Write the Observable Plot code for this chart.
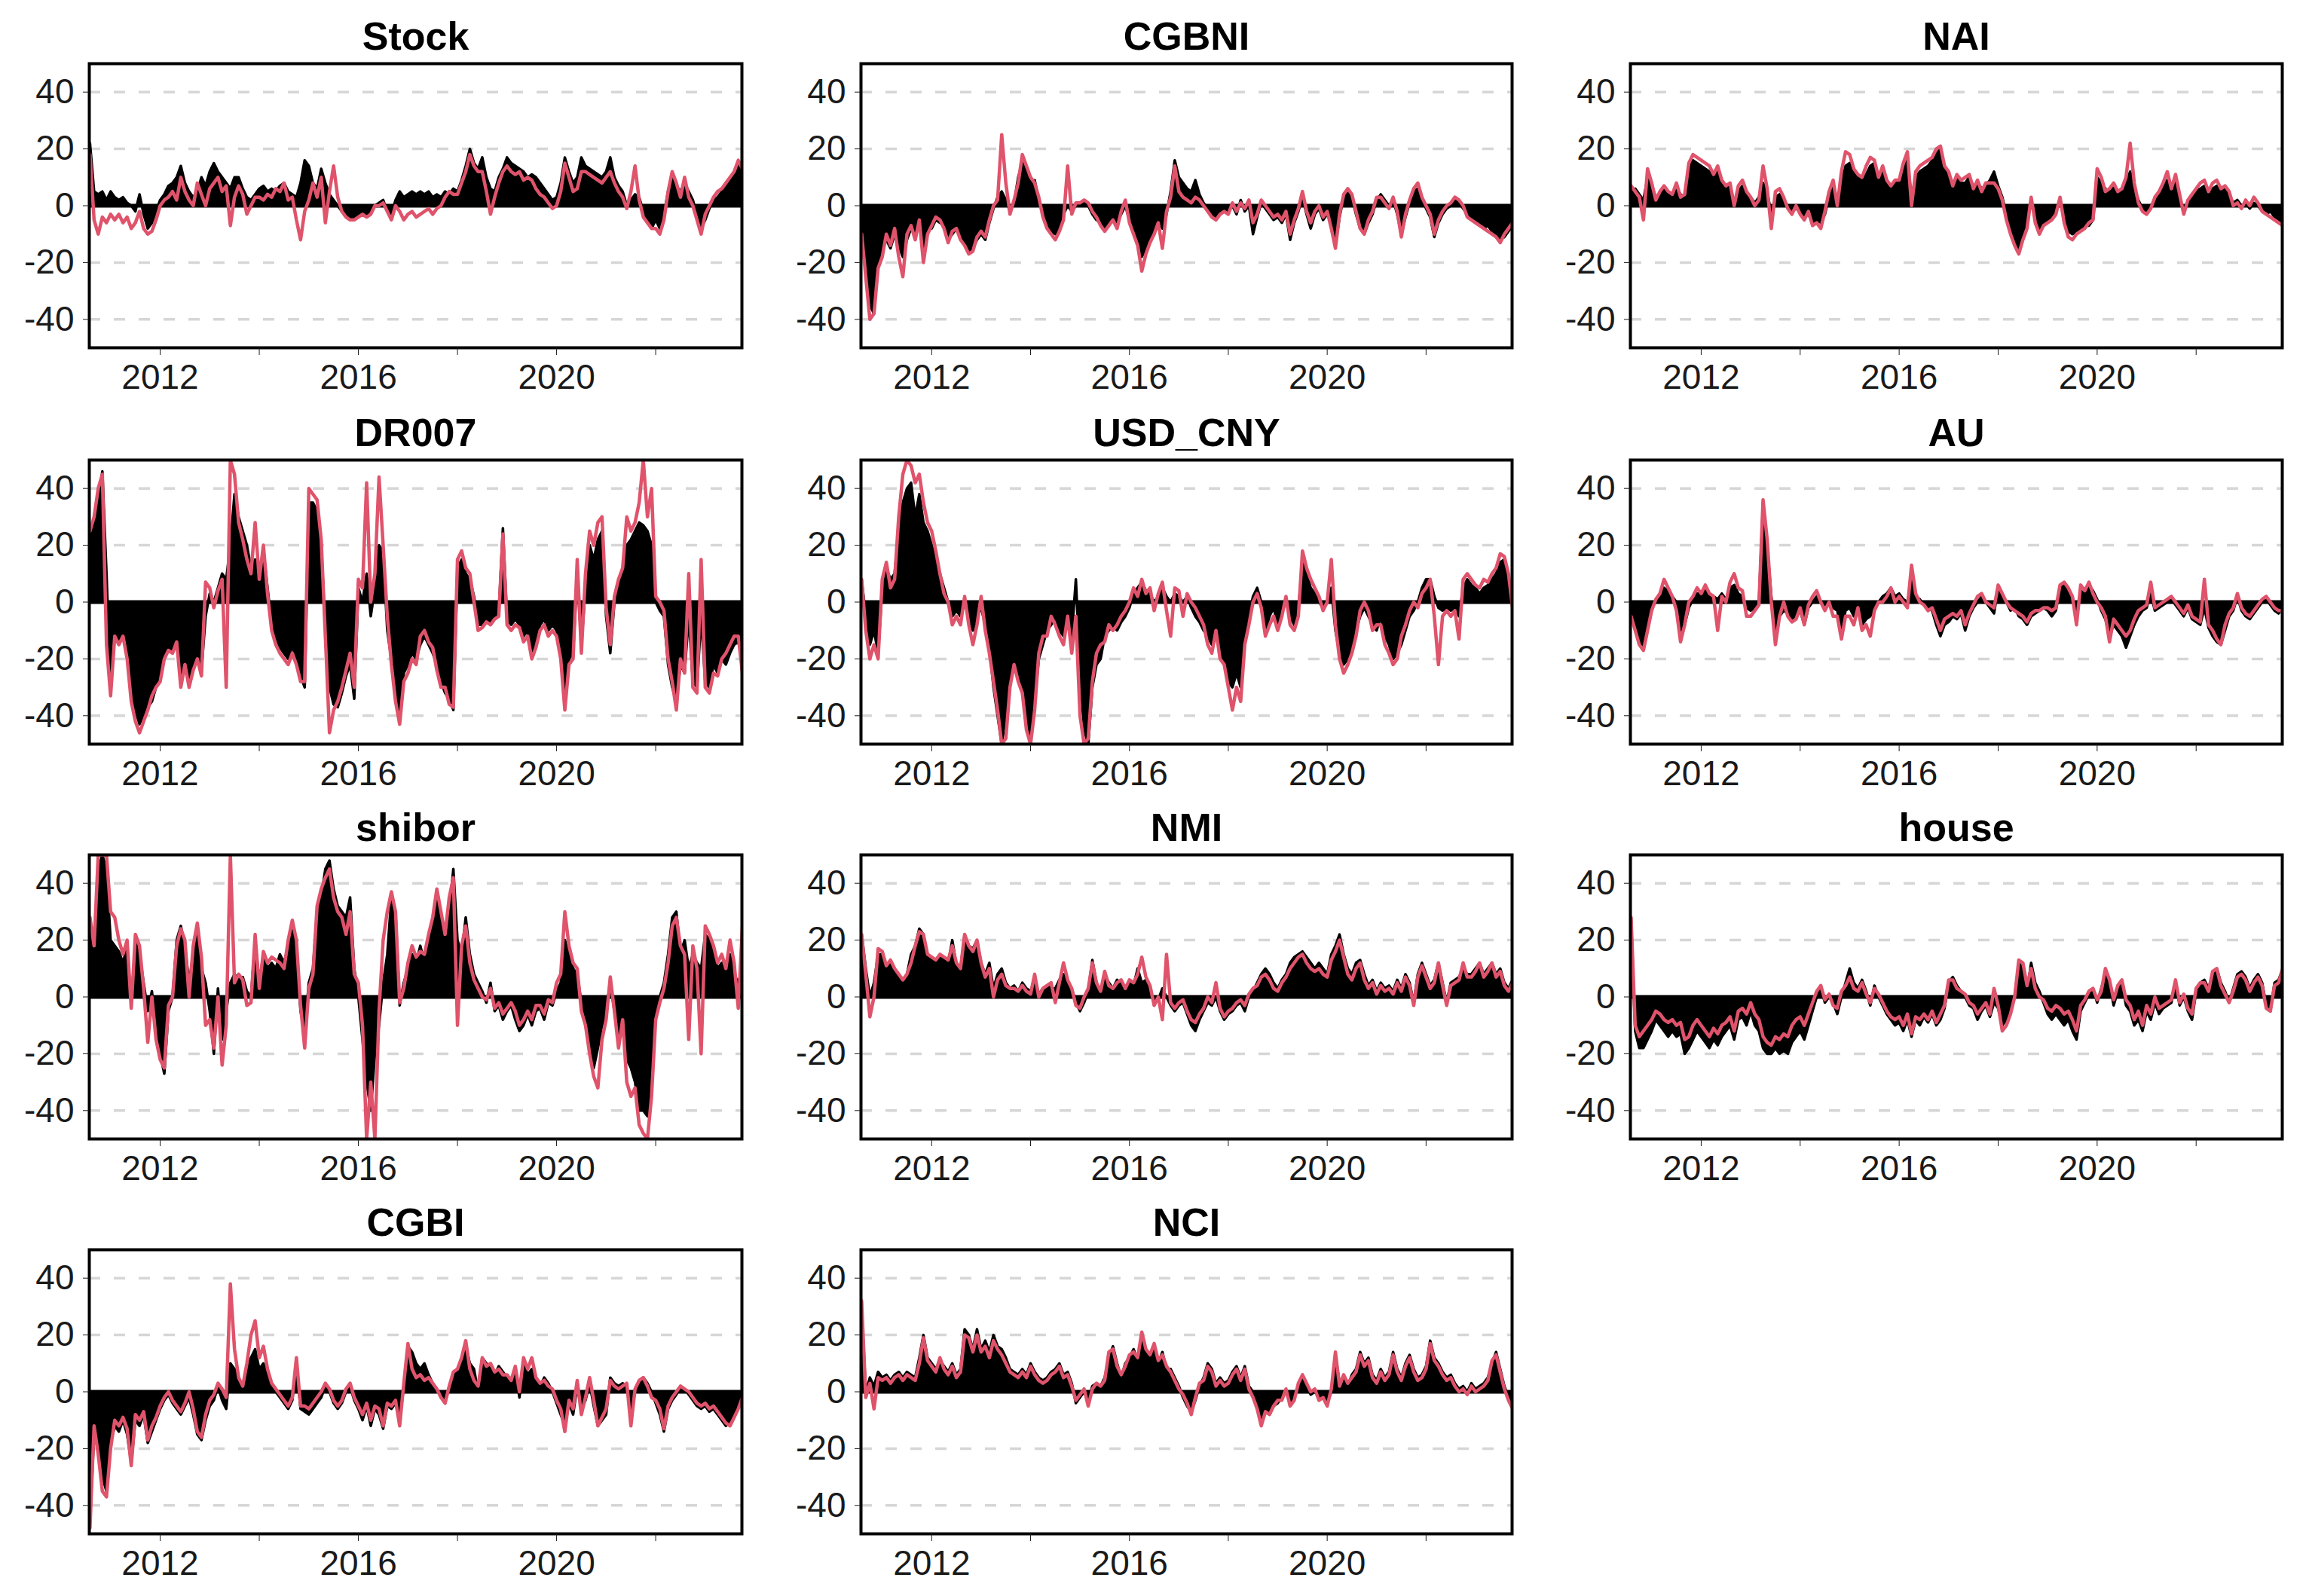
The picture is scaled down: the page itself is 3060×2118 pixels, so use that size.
<!DOCTYPE html>
<html><head><meta charset="utf-8">
<script src="https://cdn.jsdelivr.net/npm/d3@7"></script>
<script src="https://cdn.jsdelivr.net/npm/@observablehq/plot@0.6"></script>
<style>
html,body{margin:0;padding:0;background:#fff;}
#wrap{position:relative;width:3060px;height:2118px;background:#fff;overflow:hidden;}
#wrap svg{position:absolute;}
</style></head><body><div id="wrap"></div>
<script>
// Monthly readings, Aug 2010 .. Oct 2023 (rows: 2010 Aug-Dec, then one row per year)
const stockBlack = [22,5,4,5,2,
5,3,2,3,1,0,-2,4,-3,-8,-6,-2,
2,4,7,8,10,14,8,5,3,5,10,7,
12,15,12,10,8,6,10,10,6,3,2,4,
6,7,5,6,5,7,8,5,4,3,8,16,
14,8,6,13,8,4,2,0,-2,-4,-5,-4,
-3,-2,-4,-1,0,1,2,-2,-3,2,5,3,
4,5,4,5,4,5,3,4,3,5,4,6,
5,9,14,20,15,13,17,10,6,5,10,13,
17,15,14,13,12,10,11,10,8,6,4,2,
3,8,17,12,8,10,17,14,13,12,11,10,
12,17,10,7,5,0,2,4,3,-2,-5,-8,
-5,-8,-3,5,10,7,5,8,5,2,-3,-8,
-5,-1,2,3,5,7,9,12,15,14];
const stockRed = [18,-5,-10,-4,-6,
-3,-5,-3,-6,-4,-8,-6,-2,-8,-10,-9,-5,
0,2,3,5,2,10,5,2,0,8,4,0,
6,8,10,5,7,-7,3,7,4,-3,0,3,
3,2,4,3,6,5,8,2,3,-5,-12,-2,
2,8,3,10,-6,5,14,3,-2,-4,-5,-5,
-4,-3,-4,-3,0,0,1,-2,-5,0,-2,-5,
-3,-2,-4,-3,-2,-1,-3,-1,0,3,5,4,
4,8,12,18,14,12,12,5,-3,3,8,12,
14,12,11,12,9,10,9,6,4,3,1,-1,
0,5,15,10,5,6,12,12,11,10,9,8,
10,12,8,5,3,-1,5,14,2,-4,-6,-8,
-8,-10,-5,5,12,8,3,10,3,0,-5,-10,
-3,0,3,5,6,8,10,12,16,13];

const cgbniBlack = [-8,-20,-35,-38,-20,
-15,-12,-15,-10,-14,-18,-12,-8,-10,-6,-15,-8,
-8,-5,-6,-7,-12,-10,-8,-10,-13,-16,-15,-12,
-10,-12,-6,-1,3,5,2,-2,1,10,15,12,
8,9,2,-3,-6,-9,-10,-8,-3,0,-2,0,
0,1,0,-3,-5,-6,-8,-6,-4,-6,-3,0,
-5,-8,-12,-18,-15,-12,-10,-5,-8,-3,5,16,
10,8,6,5,9,4,1,-1,-3,-4,-2,-1,
-2,0,-3,2,-2,0,-10,-4,1,-1,-3,-5,
-4,-6,-3,-12,-6,-2,3,-3,-8,-3,-1,-5,
-3,-6,-14,-4,3,5,3,-3,-8,-10,-6,-3,
2,4,2,0,2,-3,-10,-4,1,5,6,2,
-1,-4,-11,-6,-3,-1,0,2,1,-1,-3,-5,
-6,-7,-8,-7,-9,-10,-12,-11,-9,-7];
const cgbniRed = [-10,-25,-40,-38,-22,
-18,-10,-14,-8,-18,-25,-10,-7,-12,-5,-20,-10,
-7,-4,-5,-8,-13,-9,-8,-12,-14,-17,-16,-11,
-9,-11,-5,0,2,25,8,-3,2,8,18,14,
10,8,3,-4,-8,-10,-12,-9,-5,14,-3,1,
1,2,1,-2,-4,-7,-9,-7,-5,-8,-2,2,
-6,-10,-14,-23,-17,-13,-10,-6,-15,-2,3,14,
5,3,2,1,3,2,0,-2,-4,-5,-3,-2,
-3,1,-2,1,-1,2,-6,-3,2,0,-2,-4,
-3,-5,-2,-10,-5,-1,5,-2,-6,-2,0,-4,
-2,-8,-15,-3,4,6,4,-2,-8,-10,-5,-2,
3,3,1,-1,3,-2,-11,-3,2,6,8,3,
0,-3,-10,-5,-2,0,1,3,2,0,-4,-5,
-6,-7,-8,-9,-10,-11,-13,-10,-8,-6];

const naiBlack = [5,6,4,2,10,
7,3,4,6,5,4,6,4,3,12,16,15,
14,13,12,10,12,8,6,7,1,5,7,4,
3,1,3,8,5,-3,3,4,2,0,-2,-1,
-2,-4,-3,-6,-5,-6,-3,3,7,2,8,14,
15,12,10,9,11,14,15,9,12,8,6,8,
8,12,16,3,10,12,13,14,16,18,20,13,
11,8,10,8,8,10,7,8,6,7,9,12,
7,3,-3,-8,-12,-15,-10,-6,2,-4,-8,-6,
-5,-4,-2,2,-5,-9,-10,-9,-8,-7,-7,-5,
10,8,6,5,7,4,5,8,12,6,2,-1,
-2,0,2,4,6,9,5,8,3,-2,1,3,
5,6,7,5,6,7,5,6,4,1,2,0,
1,-1,1,0,-2,-3,-2,-4,-5,-6];
const naiRed = [7,5,3,-5,13,
8,2,5,7,5,4,8,3,4,15,18,17,
16,15,14,11,14,9,7,8,0,7,9,5,
3,0,2,14,6,-8,5,6,3,-1,-3,0,
-3,-5,-2,-7,-6,-8,-2,5,9,0,12,19,
18,13,11,10,14,17,16,10,14,9,7,9,
9,15,19,0,12,14,15,16,17,20,21,14,
12,7,11,9,10,11,6,9,5,8,8,8,
6,2,-5,-10,-14,-17,-12,-8,3,-6,-10,-7,
-6,-5,-3,3,-6,-11,-12,-10,-9,-8,-6,-5,
13,10,5,6,8,5,6,10,22,8,1,-2,
-3,-1,3,5,8,12,6,11,4,-3,2,4,
6,8,9,5,8,9,6,7,5,0,1,-1,
2,0,3,1,-2,-3,-4,-5,-6,-7];

const dr007Black = [22,28,35,46,10,
-30,-12,-15,-10,-18,-30,-38,-43,-40,-37,-35,-30,
-25,-20,-15,-18,-12,-28,-20,-28,-22,-18,-24,-5,
3,0,5,10,8,20,38,30,25,20,12,15,
10,18,5,-8,-12,-16,-18,-20,-15,-22,-26,-30,
35,35,32,20,-10,-30,-36,-37,-32,-26,-22,-34,
5,0,10,-5,5,20,18,-10,-20,-32,-38,-25,
-22,-18,-20,-15,-12,-15,-18,-22,-28,-32,-34,-38,
12,15,10,8,2,-8,-8,-6,-7,-5,-4,26,
-6,-8,-6,-8,-12,-10,-18,-15,-8,-6,-10,-8,
-10,-18,-35,-20,-18,10,-15,5,20,15,22,25,
-5,-18,0,5,10,20,22,25,28,27,25,20,
0,-3,-5,-22,-30,-35,-22,-25,-5,-28,-30,-5,
-28,-30,-22,-25,-20,-22,-18,-15,-14,-20];
const dr007Red = [25,30,40,45,-15,
-33,-12,-15,-12,-20,-35,-42,-46,-42,-38,-33,-30,
-28,-20,-17,-18,-14,-30,-22,-30,-24,-20,-26,7,
5,-2,4,8,-30,50,45,28,22,15,10,28,
8,20,3,-10,-15,-18,-20,-22,-18,-22,-28,-28,
40,38,36,22,-12,-46,-38,-35,-30,-24,-18,-30,
8,5,42,0,10,44,20,-5,-22,-35,-43,-28,
-25,-20,-22,-12,-10,-14,-16,-24,-30,-30,-36,-37,
15,18,12,10,0,-10,-9,-7,-8,-6,-5,24,
-8,-10,-8,-9,-14,-12,-20,-16,-10,-8,-12,-10,
-12,-20,-38,-22,-20,15,-18,10,25,20,28,30,
-2,-15,2,8,12,30,25,28,35,50,30,40,
2,0,-3,-20,-28,-38,-20,-25,10,-30,-32,15,
-30,-32,-25,-26,-20,-18,-15,-12,-12,-25];

const usdBlack = [8,-5,-15,-10,-18,
5,12,8,10,25,35,40,42,30,38,28,25,
20,15,10,5,0,-5,-3,-5,0,-5,-10,-5,
-2,-8,-15,-30,-40,-50,-40,-25,-20,-25,-30,-40,
-48,-35,-20,-15,-10,-8,-5,-10,-12,-8,-12,8,
-25,-45,-50,-30,-22,-20,-12,-10,-8,-10,-7,-5,
-2,3,5,7,4,3,0,2,5,2,0,3,
2,0,2,-2,-5,-7,-10,-12,-15,-8,-18,-22,
-28,-30,-25,-30,-12,-5,2,5,0,-10,-5,-2,
-8,-3,0,-5,-8,-3,15,10,5,3,0,-2,
0,5,-10,-18,-22,-20,-15,-10,-5,-2,-5,-8,
-10,-5,-12,-15,-20,-18,-15,-10,-5,-3,0,5,
8,8,2,-2,-3,-2,-3,-2,-5,5,8,6,
5,3,5,6,8,10,14,15,8,0];
const usdRed = [8,-10,-20,-15,-20,
8,14,5,8,30,45,50,48,42,45,35,28,
25,18,10,3,0,-8,-5,-8,2,-8,-15,-8,
2,-10,-18,-28,-38,-50,-48,-30,-22,-28,-32,-45,
-50,-38,-18,-12,-12,-5,-8,-12,-15,-5,-18,-5,
-40,-50,-48,-28,-18,-15,-14,-8,-10,-8,-5,-3,
0,5,2,8,3,5,-3,3,7,-3,-12,5,
4,-5,3,0,-2,-5,-8,-15,-18,-10,-20,-22,
-30,-38,-30,-35,-15,-8,0,3,-2,-12,-8,-5,
-10,-5,2,-8,-10,-5,18,12,8,5,2,-3,
0,15,-8,-20,-25,-22,-18,-12,-3,0,-3,-10,
-8,-8,-15,-18,-22,-20,-12,-8,-3,0,-2,3,
5,8,-5,-22,-5,-3,-5,-3,-13,8,10,8,
6,5,8,7,10,12,17,16,10,-2];

const auBlack = [-3,-8,-14,-16,-8,
-2,0,2,5,4,2,0,-10,-8,-2,1,3,
3,4,2,2,1,3,1,5,6,3,2,-2,
-3,-2,0,35,20,2,-10,-5,-3,-4,-6,-5,
-3,-8,-2,0,2,0,-1,0,-2,-3,-10,-3,
-2,-5,-3,-8,-6,-5,-2,0,2,3,5,2,
3,1,0,8,2,1,-1,-2,-3,-8,-12,-8,
-7,-5,-6,-4,-10,-5,-2,0,2,0,-2,-4,
5,2,0,-3,-2,-5,-6,-8,-5,-4,-3,-2,
-3,-5,-3,5,6,4,2,-5,4,3,6,4,
1,-3,-6,-12,-8,-10,-12,-16,-12,-8,-5,-3,
-2,3,-3,-2,-1,0,1,-1,-3,-5,-2,-6,
-7,-8,-2,-9,-12,-14,-15,-10,-5,-3,2,-3,
-5,-6,-4,-2,0,1,-1,-3,-4,-2];
const auRed = [-5,-10,-15,-17,-10,
-3,1,3,8,5,2,-3,-14,-8,0,2,5,
3,6,3,2,-10,2,0,7,10,5,4,-5,
-5,-3,-1,36,22,0,-15,-5,0,-5,-7,-6,
-2,-8,-1,2,4,0,-3,0,-5,-5,-13,-5,
-5,-8,-2,-10,-8,-12,-3,0,0,2,5,0,
2,0,-2,13,3,0,-1,-3,-2,-6,-10,-6,
-5,-4,-5,-3,-8,-4,-1,2,3,0,-1,-2,
6,3,0,-2,-3,-4,-5,-7,-4,-3,-3,-2,
-2,-3,-2,6,7,5,2,-8,6,4,7,3,
0,-2,-5,-14,-6,-8,-10,-12,-10,-6,-3,-2,
-1,7,-2,-1,0,1,2,0,-2,-4,-1,-5,
-6,-7,8,-8,-10,-13,-15,-8,-4,-2,3,-2,
-4,-5,-3,-1,1,2,0,-2,-3,-3];

const shiborBlack = [25,15,45,50,45,
20,18,16,12,18,-3,20,15,5,-5,2,-12,
-20,-27,-5,0,20,25,18,5,15,25,10,5,
-5,-20,3,-15,-5,5,8,6,7,2,0,20,
5,15,10,12,10,15,12,18,25,18,-5,-12,
5,10,30,35,45,48,38,32,30,28,35,10,
0,-15,-30,-40,-20,-10,5,15,35,30,-3,5,
10,15,12,18,12,20,25,35,28,20,30,45,
20,15,28,15,8,5,2,-2,5,-5,-3,-8,
-5,-3,-8,-12,-10,-6,-10,-5,-4,-8,-2,-3,
2,5,20,15,10,8,-2,-8,-15,-25,-18,-10,
-5,5,-5,-15,-10,-22,-25,-30,-40,-40,-42,-30,
-5,0,5,15,28,30,15,20,10,15,12,10,
22,20,15,10,12,8,15,8,5,10];
const shiborRed = [28,18,50,50,50,
30,28,20,15,20,-4,22,18,3,-16,0,-15,
-22,-25,-3,0,18,24,20,0,18,26,14,-10,
-8,-18,0,-24,-10,50,5,8,6,-3,-2,22,
3,16,12,14,13,12,10,20,27,20,-3,-18,
3,8,32,38,42,45,35,30,28,22,30,8,
5,-10,-50,-30,-50,-5,20,30,37,30,-2,3,
12,18,14,16,15,22,28,38,30,22,35,42,
-10,18,25,12,6,3,0,-1,3,-4,-2,-6,
-4,-2,-5,-10,-8,-5,-8,-3,-3,-6,-1,-2,
5,8,30,18,12,10,-5,-10,-20,-28,-32,-15,
-8,7,-5,-18,-8,-30,-35,-32,-45,-48,-50,-35,
-8,-2,3,12,25,28,18,15,-15,18,10,-20,
25,22,18,12,15,10,20,12,-4,25];

const nmiBlack = [22,10,0,5,15,
15,10,12,9,7,6,8,15,18,24,22,14,
14,13,14,14,12,20,11,10,22,18,17,20,
12,8,12,3,8,10,5,3,4,2,5,3,
2,6,1,3,4,3,3,6,8,5,3,-2,
-5,-2,2,13,5,1,8,5,3,6,5,2,
5,4,10,5,6,3,-2,-1,3,0,-3,-5,
-3,-2,-6,-10,-12,-8,-5,-2,-3,0,-5,-8,
-6,-5,-3,-2,-5,0,2,5,8,10,8,5,
3,6,8,12,14,15,16,14,12,10,12,10,
8,15,18,22,15,10,8,12,13,8,4,6,
2,5,3,4,2,6,3,8,5,-2,8,12,
8,4,6,12,5,-2,5,6,7,10,8,8,
10,12,8,10,12,8,10,5,3,6];
const nmiRed = [22,8,-7,0,17,
16,11,13,10,8,6,8,12,18,23,22,15,
14,13,15,14,13,18,12,10,22,18,16,20,
12,7,10,0,6,8,4,3,3,2,4,2,
1,8,0,3,4,5,-2,5,12,6,3,-3,
-4,0,3,12,5,2,9,4,3,5,6,3,
6,5,8,14,7,4,-3,0,-8,15,-2,-4,
-2,-1,-5,-8,-9,-6,-4,0,-2,5,-4,-7,
-5,-4,-2,-1,-3,1,3,4,7,8,6,3,
2,5,7,10,12,14,15,12,10,9,10,8,
7,13,16,20,14,8,6,10,12,6,3,5,
1,4,2,3,1,5,2,7,4,-3,7,11,
7,3,5,12,4,-3,4,5,6,12,7,7,
9,12,7,9,12,7,9,4,2,5];

const houseBlack = [28,-12,-18,-18,-15,
-12,-8,-10,-12,-14,-12,-14,-13,-20,-18,-15,-12,
-14,-16,-18,-15,-17,-14,-12,-10,-15,-8,-7,-10,
-5,-10,-12,-18,-20,-20,-18,-20,-19,-20,-16,-14,
-12,-15,-10,-5,0,3,-2,0,-2,-6,0,5,
10,5,3,6,2,-3,4,0,-3,-6,-8,-10,
-9,-12,-8,-14,-8,-10,-7,-9,-6,-10,-8,-4,
5,7,4,2,0,-3,-4,-8,-5,-3,-7,-2,
-4,-10,-8,-5,0,12,10,2,12,5,2,-2,
-6,-8,-6,-8,-10,-8,-12,-15,-5,-2,1,3,
-2,3,8,5,-3,2,5,-3,-5,-10,-8,-12,
-5,-8,-2,-6,-4,-3,-2,5,-3,0,-5,-8,
2,5,6,3,8,10,5,2,-2,3,8,9,
7,3,6,8,5,-3,-5,5,6,10];
const houseRed = [28,-10,-14,-12,-10,
-8,-5,-6,-8,-9,-8,-10,-9,-15,-14,-10,-8,
-10,-12,-14,-11,-13,-10,-9,-7,-12,-5,-4,-6,
-2,-6,-8,-14,-16,-17,-14,-15,-13,-14,-10,-8,
-7,-10,-6,-2,2,4,-1,1,-3,-4,2,4,
7,3,2,5,1,-2,3,1,-2,-5,-7,-8,
-7,-10,-6,-13,-7,-8,-6,-8,-5,-9,-6,-3,
6,6,3,2,1,-2,-3,-6,-4,-2,-6,3,
-3,-12,-10,-6,0,13,12,4,10,3,0,-1,
-4,-5,-3,-4,-6,-5,-8,-12,-3,-1,2,3,
-1,2,10,6,-1,4,6,-1,-3,-8,-5,-10,
-3,-6,0,-4,-3,-2,-1,6,-2,1,-4,-6,
3,5,5,2,9,10,4,1,-2,2,7,8,
6,2,5,7,4,-4,-5,4,5,10];

const cgbiBlack = [-45,-15,-20,-30,-35,
-18,-12,-14,-10,-15,-25,-10,-12,-8,-18,-14,-10,
-6,-3,-1,-4,-6,-8,-5,-2,-8,-15,-17,-10,
-5,-3,2,-3,-6,10,8,3,1,8,12,15,
8,10,6,2,0,-2,-4,-6,-3,10,-6,-7,
-8,-6,-4,-2,2,0,-4,-6,-4,0,2,-3,
-6,-10,-5,-12,-6,-8,-13,-5,-6,-4,-10,2,
16,14,10,8,10,6,3,1,-2,-4,2,6,
8,10,16,10,8,0,12,10,8,6,9,7,
5,3,8,-2,10,6,8,4,2,5,3,0,
-4,-8,-12,-4,-8,2,-6,-3,3,-5,-12,-10,
-8,5,3,2,3,2,-8,0,3,5,3,0,
-4,-8,-14,-6,-3,-1,2,1,-1,-3,-5,-6,
-5,-7,-6,-8,-10,-12,-10,-8,-5,-3];
const cgbiRed = [-48,-12,-22,-35,-37,
-20,-10,-12,-9,-13,-26,-8,-10,-7,-17,-12,-9,
-5,-2,0,-3,-5,-7,-4,0,-6,-14,-16,-8,
-3,-1,3,1,-2,38,15,5,2,10,20,25,
12,16,8,3,1,-1,-3,-5,-2,12,-5,-5,
-6,-4,-2,0,3,1,-3,-5,-3,1,3,-2,
-5,-8,-4,-10,-5,-6,-12,-4,-5,-3,-12,3,
17,8,5,6,4,5,3,1,-2,-4,2,7,
8,12,18,8,4,2,12,9,10,7,8,6,
6,4,9,0,12,8,12,5,3,4,2,1,
-3,-6,-14,-3,-6,4,-8,-2,5,-3,-12,-9,
-6,4,2,1,2,3,-12,1,4,5,2,-2,
-3,-6,-13,-5,-2,0,2,1,0,-2,-4,-5,
-4,-6,-5,-7,-9,-11,-12,-9,-6,-2];

const nciBlack = [30,0,5,2,7,
5,6,4,6,7,5,7,6,5,12,20,12,
10,8,11,9,7,10,6,8,22,20,15,22,
15,18,14,20,16,15,12,8,7,6,8,6,
10,7,5,4,5,7,8,10,6,7,3,-4,
-2,0,-3,2,3,2,5,12,16,10,5,10,
12,15,11,20,14,12,16,10,14,8,8,5,
2,-2,-5,-7,-3,2,5,10,8,3,5,3,
4,7,9,5,9,2,0,-5,-10,-6,-8,-5,
-4,-2,0,-4,-2,2,5,2,-1,0,-2,-1,
-4,0,13,3,5,2,6,8,14,10,12,6,
4,8,5,7,14,8,5,10,13,8,5,6,
9,18,12,10,7,5,6,3,1,2,0,3,
1,2,3,5,10,14,8,2,-2,-5];
const nciRed = [32,-2,3,-6,5,
4,5,3,5,6,4,6,5,4,10,19,11,
9,7,12,8,6,9,5,7,20,19,14,20,
14,16,12,18,15,13,10,7,6,5,7,5,
9,6,4,3,4,6,7,9,5,6,2,-3,
-1,1,-5,1,3,2,4,14,15,9,6,9,
13,14,12,21,15,13,17,11,13,9,7,4,
1,-1,-4,-8,-2,3,4,9,7,2,4,2,
3,6,8,4,8,1,-2,-6,-12,-7,-8,-5,
-3,-3,1,-5,-3,3,6,3,0,1,-3,-2,
-5,1,14,2,6,3,5,7,13,9,11,5,
3,7,4,6,13,7,4,9,12,7,4,5,
8,17,11,9,6,4,5,2,0,1,-1,2,
0,1,2,4,11,13,7,1,-3,-6];

const titles = ["Stock","CGBNI","NAI","DR007","USD_CNY","AU","shibor","NMI","house","CGBI","NCI"];
const blackSeries = [stockBlack, cgbniBlack, naiBlack, dr007Black, usdBlack, auBlack, shiborBlack, nmiBlack, houseBlack, cgbiBlack, nciBlack];
const redSeries = [stockRed, cgbniRed, naiRed, dr007Red, usdRed, auRed, shiborRed, nmiRed, houseRed, cgbiRed, nciRed];
const yTicks = [-40, -20, 0, 20, 40];
const xTicks = [2012, 2014, 2016, 2018, 2020, 2022];
const xLabels = [2012, 2016, 2020];
const startTime = 2010 + 7 / 12; // August 2010

const colLeft = [0, 1020, 2040];
const colWidth = [1010, 1020, 1020];
const colMarginLeft = [118, 122, 123];
const colFrameRight = [984, 2006, 3028];
const rowTop = [0, 526, 1050, 1574];

const wrap = document.getElementById("wrap");
titles.forEach((title, k) => {
  const r = Math.floor(k / 3), c = k % 3;
  const blk = blackSeries[k], red = redSeries[k];
  const rows = blk.map((v, i) => ({t: startTime + i / 12, black: v, red: red[i]}));
  const svg = Plot.plot({
    width: colWidth[c],
    height: 525,
    marginLeft: colMarginLeft[c],
    marginRight: colWidth[c] - (colFrameRight[c] - colLeft[c]),
    marginTop: 84,
    marginBottom: 64,
    x: {domain: [2010.57, 2023.74], label: null},
    y: {domain: [-50, 50], label: null},
    style: {fontFamily: "'Liberation Sans', Arial, Helvetica, sans-serif", fontSize: "46px", color: "#1a1a1a", background: "transparent", overflow: "visible"},
    marks: [
      Plot.ruleY([-40, -20, 20, 40], {stroke: "#d6d6d6", strokeWidth: 3.5, strokeDasharray: "15,18"}),
      Plot.areaY(rows, {x: "t", y: "black", fill: "black", clip: true}),
      Plot.lineY(rows, {x: "t", y: "black", stroke: "black", strokeWidth: 3.5, clip: true}),
      Plot.ruleY([0], {stroke: "black", strokeWidth: 5}),
      Plot.lineY(rows, {x: "t", y: "red", stroke: "#DF536B", strokeWidth: 4.5, clip: true}),
      Plot.frame({stroke: "black", strokeWidth: 4}),
      Plot.axisY({ticks: yTicks, tickSize: 8, tickPadding: 12, tickFormat: d => String(d), fontSize: 46, label: null}),
      Plot.axisX({ticks: xTicks, tickSize: 10, tickPadding: 12, tickFormat: d => xLabels.includes(d) ? String(d) : "", fontSize: 46, label: null}),
      Plot.text([title], {text: d => d, frameAnchor: "top", dy: -35, fontSize: 52, fontWeight: "bold", lineAnchor: "middle", fill: "black"})
    ]
  });
  svg.style.left = colLeft[c] + "px";
  svg.style.top = rowTop[r] + "px";
  wrap.append(svg);
});
</script></body></html>
